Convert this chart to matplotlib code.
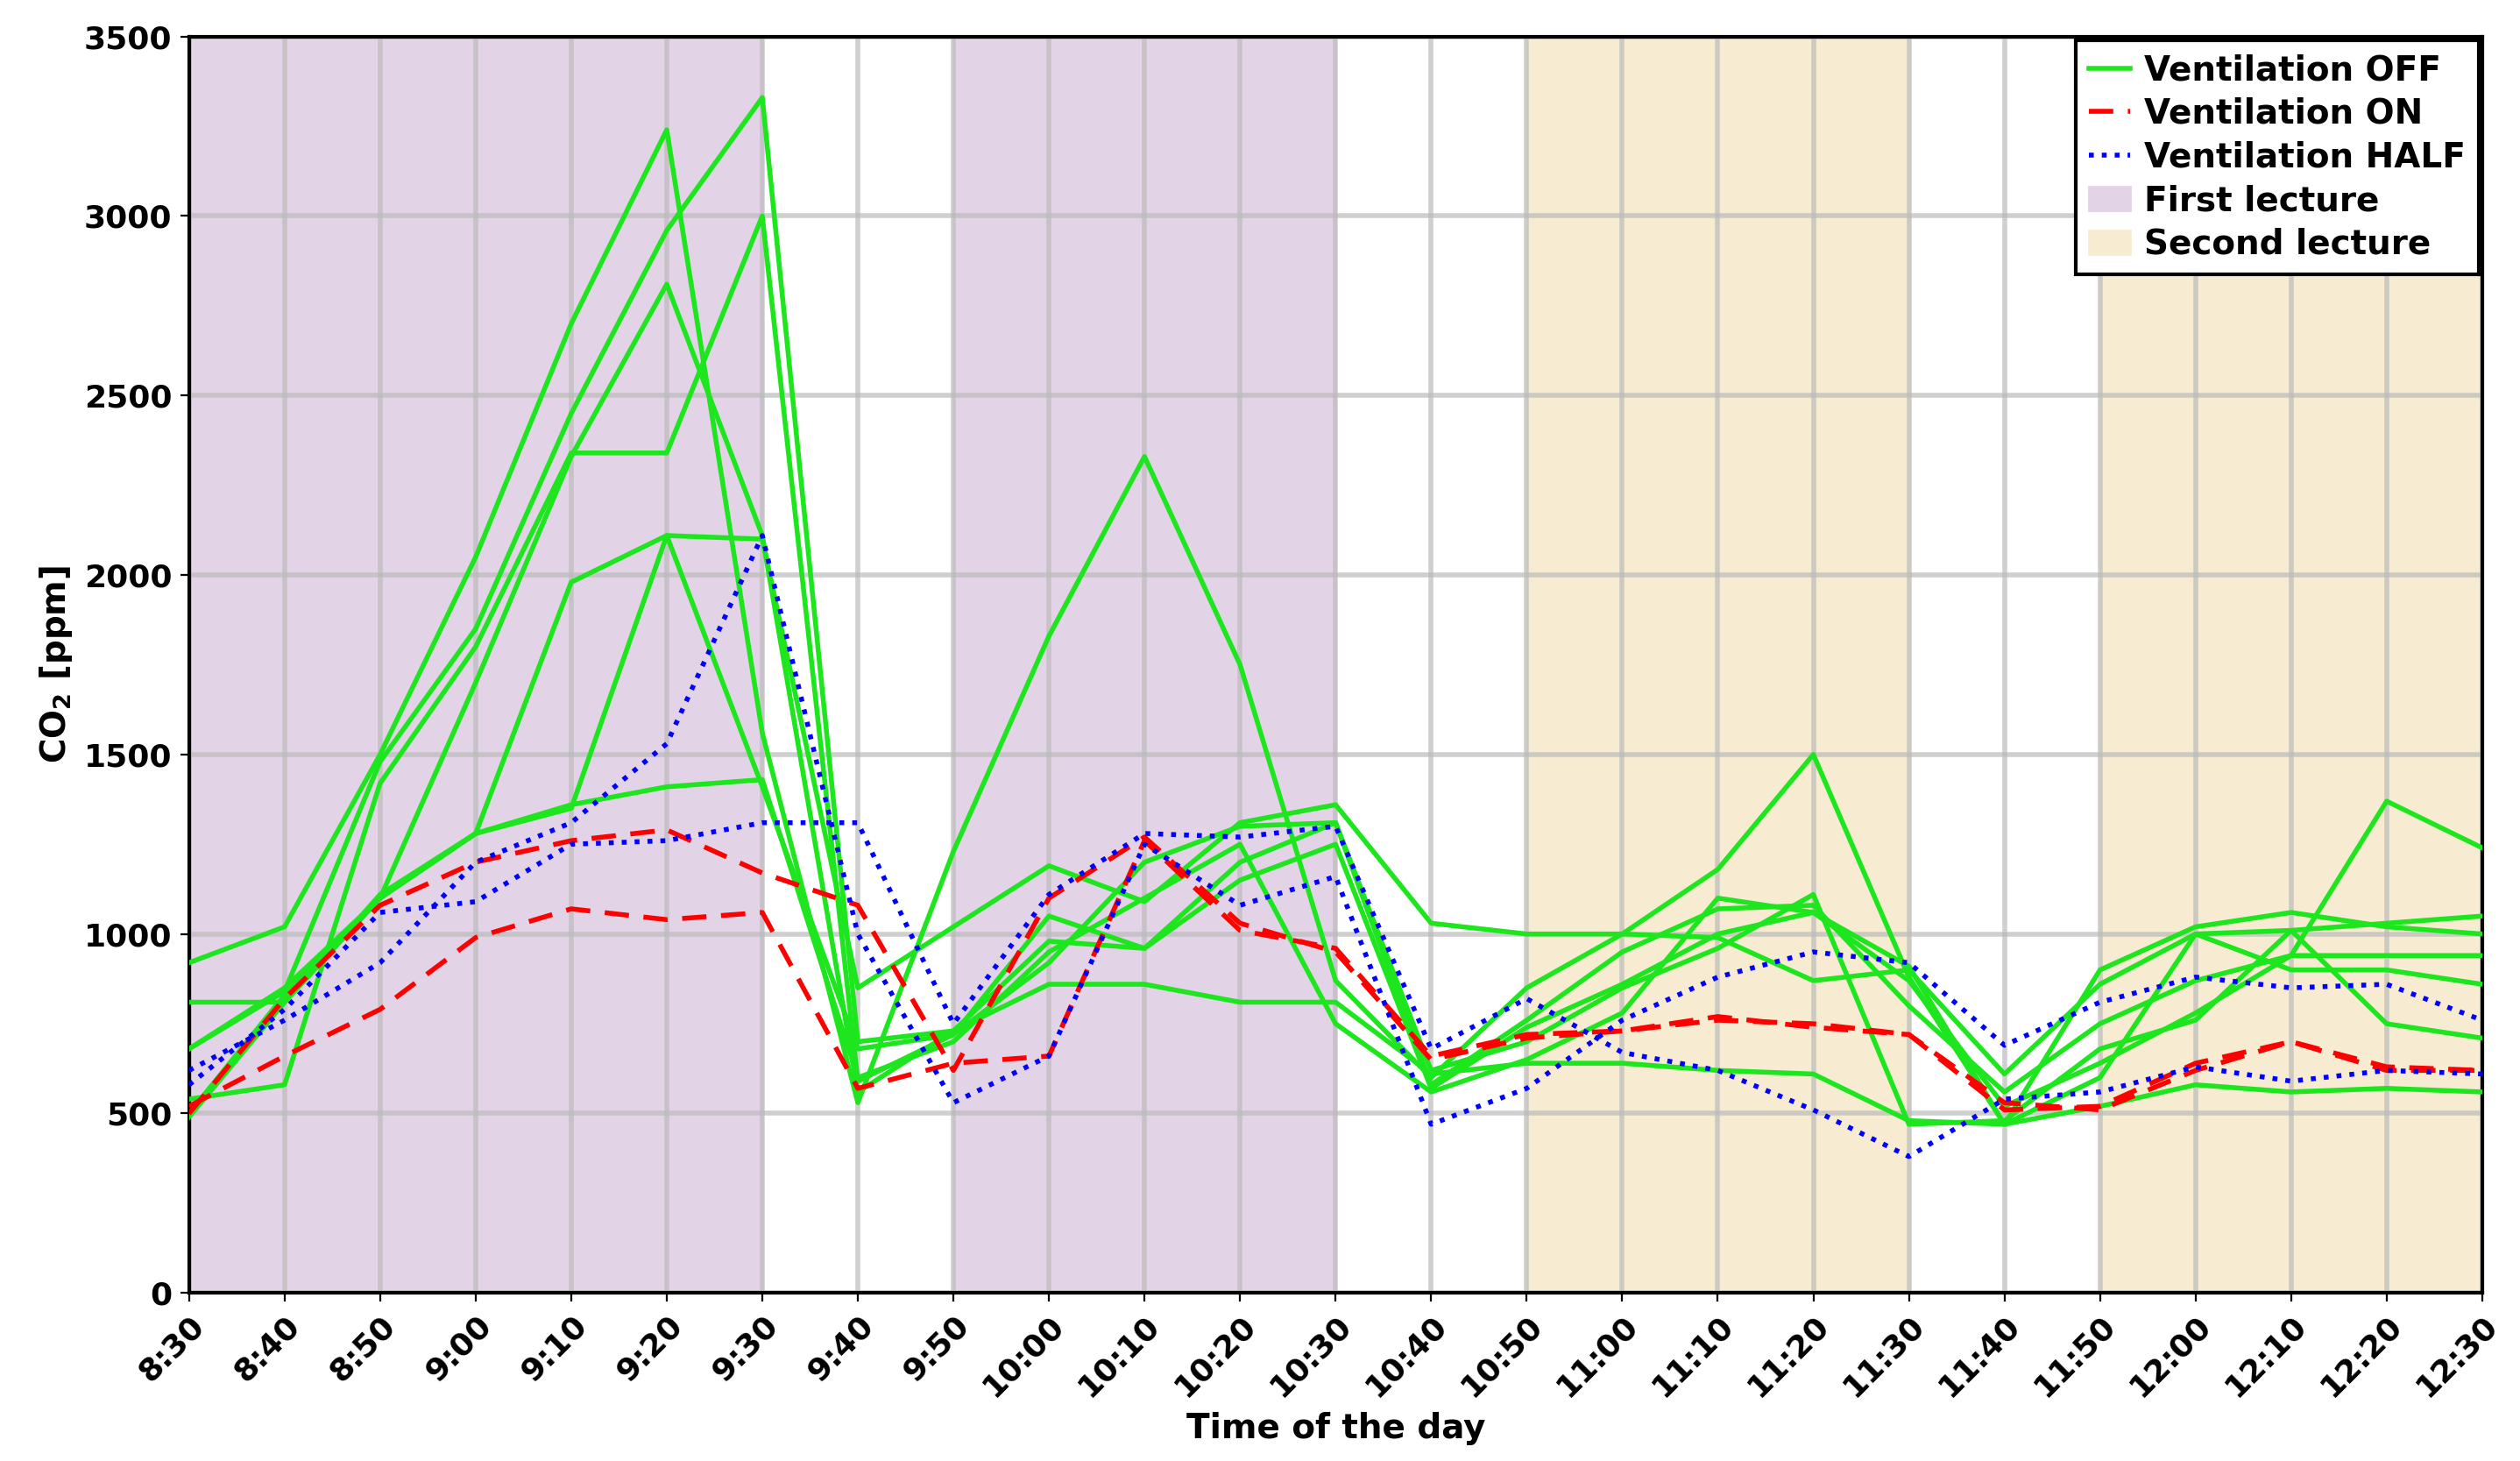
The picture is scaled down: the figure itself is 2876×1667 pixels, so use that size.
import matplotlib.pyplot as plt
import numpy as np

times = ["8:30", "8:40", "8:50", "9:00", "9:10", "9:20", "9:30", "9:40", "9:50",
         "10:00", "10:10", "10:20", "10:30", "10:40", "10:50", "11:00", "11:10",
         "11:20", "11:30", "11:40", "11:50", "12:00", "12:10", "12:20", "12:30"]

off_series = [
    [920, 1020, 1500, 2050, 2700, 3240, 1560, 530, 1230, 1830, 2330, 1750, 870, 600, 850, 1000, 1180, 1500, 880, 470, 900, 1020, 1060, 1020, 1000],
    [680, 840, 1480, 1850, 2450, 2960, 3330, 700, 730, 980, 960, 1200, 1310, 580, 760, 950, 1070, 1080, 800, 560, 750, 870, 940, 1370, 1240],
    [540, 580, 1420, 1800, 2340, 2340, 3000, 590, 720, 920, 1200, 1300, 1310, 620, 700, 850, 960, 1110, 470, 480, 680, 760, 1010, 1030, 1050],
    [490, 810, 1100, 1700, 2330, 2810, 2110, 560, 730, 860, 860, 810, 810, 610, 640, 640, 620, 610, 480, 470, 520, 580, 560, 570, 560],
    [810, 810, 1110, 1280, 1350, 2110, 2100, 850, 1020, 1190, 1090, 1310, 1360, 1030, 1000, 1000, 990, 870, 900, 610, 860, 1000, 1010, 750, 710],
    [680, 850, 1100, 1280, 1980, 2110, 1410, 680, 720, 1050, 960, 1150, 1250, 570, 740, 860, 1000, 1060, 910, 470, 600, 1000, 900, 900, 860],
    [500, 830, 1100, 1280, 1360, 1410, 1430, 600, 700, 950, 1100, 1250, 750, 560, 650, 780, 1100, 1060, 870, 520, 640, 780, 940, 940, 940],
]
on_series = [
    [500, 820, 1080, 1200, 1260, 1290, 1170, 1080, 620, 1100, 1270, 1030, 950, 650, 710, 730, 760, 750, 720, 510, 520, 640, 700, 620, 620],
    [520, 660, 790, 990, 1070, 1040, 1060, 570, 640, 660, 1260, 1010, 960, 660, 720, 730, 770, 740, 720, 530, 510, 620, 700, 630, 620],
]
half_series = [
    [620, 760, 920, 1200, 1310, 1530, 2110, 1000, 530, 660, 1250, 1080, 1160, 470, 570, 760, 880, 950, 920, 690, 810, 880, 850, 860, 760],
    [580, 790, 1060, 1090, 1250, 1260, 1310, 1310, 750, 1110, 1280, 1270, 1300, 680, 820, 670, 620, 510, 380, 540, 560, 630, 590, 620, 610],
]
first_lecture = [(0, 6), (8, 12)]
second_lecture = [(14, 18), (20, 24)]

plt.rcParams['font.weight'] = 'bold'
plt.rcParams['axes.labelweight'] = 'bold'

fig, ax = plt.subplots(figsize=(14.38, 8.335), dpi=200)
x = np.arange(len(times))

for i, (a, b) in enumerate(first_lecture):
    ax.axvspan(a, b, color='#e2d3e6', zorder=0, label='First lecture' if i == 0 else None)
for i, (a, b) in enumerate(second_lecture):
    ax.axvspan(a, b, color='#f7ecd2', zorder=0, label='Second lecture' if i == 0 else None)

for i, s in enumerate(off_series):
    ax.plot(x, s, color='#1ee61e', lw=2, label='Ventilation OFF' if i == 0 else None, zorder=3)
for i, s in enumerate(on_series):
    ax.plot(x, s, color='red', lw=2, ls=(0, (5, 3)), label='Ventilation ON' if i == 0 else None, zorder=4)
for i, s in enumerate(half_series):
    ax.plot(x, s, color='blue', lw=2, ls=':', label='Ventilation HALF' if i == 0 else None, zorder=4)

ax.set_xlim(0, 24)
ax.set_ylim(0, 3500)
ax.set_xticks(x)
ax.set_xticklabels(times, rotation=45, ha='right', rotation_mode='anchor', fontsize=13)
ax.set_yticks(np.arange(0, 3501, 500))
ax.tick_params(axis='y', labelsize=13)
ax.grid(True, color='#bbbbbb', lw=2, alpha=0.7, zorder=1)
ax.set_axisbelow(True)
ax.set_xlabel('Time of the day', fontsize=14)
ax.set_ylabel('CO$_\\mathbf{2}$ [ppm]', fontsize=14)
for sp in ax.spines.values():
    sp.set_linewidth(1.5)

handles, labels = ax.get_legend_handles_labels()
order = [labels.index(l) for l in ['Ventilation OFF', 'Ventilation ON', 'Ventilation HALF', 'First lecture', 'Second lecture']]
leg = ax.legend([handles[i] for i in order], [labels[i] for i in order], loc='upper right',
                fontsize=14, framealpha=1, fancybox=False, edgecolor='black',
                borderaxespad=0.1, handlelength=1.2, handletextpad=0.4, labelspacing=0.3)
leg.get_frame().set_linewidth(1.5)

plt.subplots_adjust(left=0.075, right=0.985, top=0.975, bottom=0.115)
plt.savefig('out.png')
